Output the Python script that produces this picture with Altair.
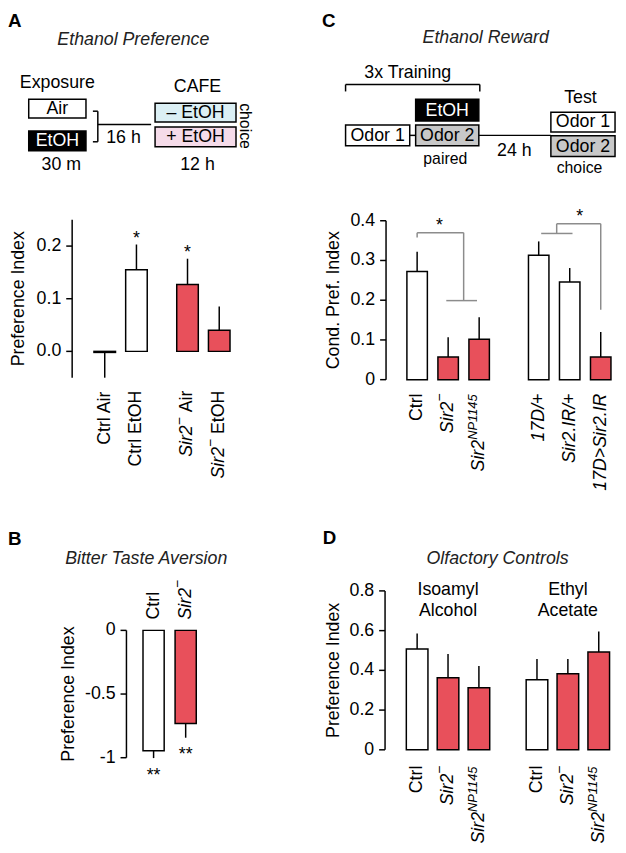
import altair as alt
import pandas as pd

FONT = "Liberation Sans"
RED = "#e8505b"
WHITE = "#ffffff"
BLACK = "#000000"
GRAY_BOX = "#c8c8c8"
BRACKET = "#8c8c8c"
BLUE_BOX = "#dbeff4"
PINK_BOX = "#f5dbe9"
O = 8  # page margin: page pixel -> chart pixel

# ---------------------------------------------------------------- data
# A  Ethanol preference
a_groups = [0, 0, 1, 1]
a_labels = [[("Ctrl Air", "n")], [("Ctrl EtOH", "n")],
            [("Sir2", "i"), ("\u2212", "sup"), (" Air", "n")],
            [("Sir2", "i"), ("\u2212", "sup"), (" EtOH", "n")]]
a_values = [-0.002, 0.155, 0.127, 0.040]
a_errors = [-0.048, 0.048, 0.049, 0.045]
a_fills = [WHITE, WHITE, RED, RED]
a_stars = ["", "*", "*", ""]
a_ticks = [0, 0.1, 0.2]
a_tick_labels = ["0.0", "0.1", "0.2"]

# B  Bitter taste aversion
b_groups = [0, 0]
b_labels = [[("Ctrl", "n")], [("Sir2", "i"), ("\u2212", "sup")]]
b_values = [-0.945, -0.731]
b_errors = [-0.058, -0.112]
b_fills = [WHITE, RED]
b_stars = ["**", "**"]
b_ticks = [-1, -0.5, 0]
b_tick_labels = ["-1", "-0.5", "0"]

# C  Ethanol reward
c_groups = [0, 0, 0, 1, 1, 1]
c_labels = [[("Ctrl", "n")], [("Sir2", "i"), ("\u2212", "sup")],
            [("Sir2", "i"), ("NP1145", "isup")],
            [("17D/+", "i")], [("Sir2.IR/+", "i")], [("17D>Sir2.IR", "i")]]
c_values = [0.272, 0.057, 0.102, 0.313, 0.246, 0.057]
c_errors = [0.050, 0.050, 0.055, 0.035, 0.035, 0.063]
c_fills = [WHITE, RED, RED, WHITE, WHITE, RED]
c_stars = ["", "", "", "", "", ""]
c_ticks = [0, 0.1, 0.2, 0.3, 0.4]
c_tick_labels = ["0", "0.1", "0.2", "0.3", "0.4"]
# significance brackets (bar-index units / index units)
c_sig_x = [0.0, 0.0, 1.5, 0.94, 4.0, 4.5, 4.5, 5.92]
c_sig_x2 = [0.0, 1.5, 1.5, 1.93, 5.01, 4.5, 5.92, 5.92]
c_sig_y = [0.358, 0.370, 0.370, 0.199, 0.368, 0.368, 0.3925, 0.3925]
c_sig_y2 = [0.370, 0.370, 0.199, 0.199, 0.368, 0.3925, 0.3925, 0.176]
c_sig_star_x = [0.72, 5.24]
c_sig_star_y = [0.370, 0.3925]

# D  Olfactory controls
d_groups = [0, 0, 0, 1, 1, 1]
d_labels = [[("Ctrl", "n")], [("Sir2", "i"), ("\u2212", "sup")],
            [("Sir2", "i"), ("NP1145", "isup")]] * 2
d_values = [0.507, 0.363, 0.313, 0.353, 0.383, 0.492]
d_errors = [0.079, 0.119, 0.109, 0.104, 0.074, 0.104]
d_fills = [WHITE, RED, RED, WHITE, RED, RED]
d_stars = ["", "", "", "", "", ""]
d_ticks = [0, 0.2, 0.4, 0.6, 0.8]
d_tick_labels = ["0", "0.2", "0.4", "0.6", "0.8"]
d_group_names = [["Isoamyl", "Alcohol"], ["Ethyl", "Acetate"]]

# ---------------------------------------------------------------- helpers
W = {' ': 278, '.': 278, '/': 278, '+': 584, '>': 584, '\u2212': 584, '-': 333,
     'A': 667, 'C': 722, 'D': 722, 'E': 667, 'H': 722, 'I': 278, 'N': 722,
     'O': 778, 'P': 667, 'R': 722, 'S': 667, 'i': 222, 'l': 222, 'r': 333, 't': 278}
STYLE = {"n": (18, "normal", 0), "i": (18, "italic", 0),
         "sup": (14, "normal", -8), "isup": (13, "italic", -6)}


def tw(s, size):
    return sum(W.get(ch, 556) for ch in s) * size / 1000.0


def make_pos(groups, gap):
    out, seen = [], {}
    n0 = groups.count(groups[0])
    for g in groups:
        k = seen.get(g, 0)
        seen[g] = k + 1
        out.append(k + g * (n0 + gap))
    return out


def label_frame(pos, labels, anchor_y, at_end):
    rows = []
    for p, pieces in zip(pos, labels):
        total = sum(tw(t, STYLE[s][0]) for t, s in pieces)
        base = anchor_y + total if at_end else anchor_y
        acc = 0.0
        for t, st in pieces:
            size = STYLE[st][0]
            lead = len(t) - len(t.lstrip(' '))
            start = acc + tw(' ' * lead, size)
            rows.append(dict(pos=p, ypix=base - start - O, txt=t.strip(), style=st))
            acc += tw(t, size)
    return pd.DataFrame(rows)


def px(f):
    return alt.X(f, scale=None, axis=None)


def py(f):
    return alt.Y(f, scale=None, axis=None)


def panel(groups, gap, labels, values, errors, fills, stars, xr, yd, yr, hw,
          axis_x, ticks, tick_labels, title, title_cx, star_dy, lab_y, lab_end, extra=()):
    pos = make_pos(groups, gap)
    df = pd.DataFrame({"pos": pos, "value": values, "err": errors, "fill": fills, "star": stars})
    df["tip"] = df["value"] + df["err"]
    xs = alt.Scale(domain=[pos[0], pos[-1]], range=[xr[0] - O, xr[1] - O], nice=False, zero=False)
    ys = alt.Scale(domain=yd, range=[yr[0] - O, yr[1] - O], nice=False, zero=False)
    base = alt.Chart(df)
    bars = base.transform_calculate(x0=f"datum.pos-{hw}", x1=f"datum.pos+{hw}").mark_bar(
        stroke="black", strokeWidth=1.5).encode(
        x=alt.X("x0:Q", scale=xs, axis=None), x2="x1:Q",
        y=alt.Y("value:Q", scale=ys, axis=None), y2=alt.datum(0),
        fill=alt.Fill("fill:N", scale=None))
    err = base.mark_rule(color="black", strokeWidth=1.5).encode(
        x=alt.X("pos:Q", scale=xs, axis=None),
        y=alt.Y("value:Q", scale=ys, axis=None), y2="tip:Q")
    layers = [bars, err]
    if any(s for s in stars):
        layers.append(base.transform_filter("datum.star != ''").mark_text(
            font=FONT, fontSize=18, baseline="alphabetic", dy=star_dy, color="black").encode(
            x=alt.X("pos:Q", scale=xs, axis=None),
            y=alt.Y("tip:Q", scale=ys, axis=None), text="star:N"))
    # y axis: domain line, ticks, tick labels, title (value positions through the panel scale)
    ax = axis_x - O
    dom = pd.DataFrame({"xa": [ax], "lo": [yd[0]], "hi": [yd[1]]})
    layers.append(alt.Chart(dom).mark_rule(color="black", strokeWidth=1.5).encode(
        x=px("xa:Q"), y=alt.Y("lo:Q", scale=ys, axis=None), y2="hi:Q"))
    tk = pd.DataFrame({"v": ticks, "lab": tick_labels, "xa": [ax - 6] * len(ticks),
                       "xb": [ax] * len(ticks), "xl": [ax - 11] * len(ticks)})
    layers.append(alt.Chart(tk).mark_rule(color="black", strokeWidth=1.5).encode(
        x=px("xa:Q"), x2="xb:Q", y=alt.Y("v:Q", scale=ys, axis=None)))
    layers.append(alt.Chart(tk).mark_text(font=FONT, fontSize=18, align="right",
                                          baseline="middle", color="black").encode(
        x=px("xl:Q"), y=alt.Y("v:Q", scale=ys, axis=None), text="lab:N"))
    tt = pd.DataFrame({"x": [title_cx - O], "y": [(yr[0] + yr[1]) / 2 - O], "t": [title]})
    layers.append(alt.Chart(tt).mark_text(font=FONT, fontSize=18, angle=270, align="center",
                                          baseline="middle", color="black").encode(
        x=px("x:Q"), y=py("y:Q"), text="t:N"))
    # rotated category labels with italic / superscript pieces
    lf = label_frame(pos, labels, lab_y, lab_end)
    for st, (size, fstyle, dy) in STYLE.items():
        sub = lf[lf["style"] == st]
        if len(sub) == 0:
            continue
        layers.append(alt.Chart(sub).mark_text(
            angle=270, align="left", baseline="middle", font=FONT, fontSize=size,
            fontStyle=fstyle, dy=dy, color="black").encode(
            x=alt.X("pos:Q", scale=xs, axis=None),
            y=py("ypix:Q"), text="txt:N"))
    for fn in extra:
        layers.append(fn(pos, xs, ys))
    return alt.layer(*layers)


def c_brackets(pos, xs, ys):
    d = pd.DataFrame({"x": c_sig_x, "x2": c_sig_x2, "y": c_sig_y, "y2": c_sig_y2})
    return alt.Chart(d).mark_rule(color=BRACKET, strokeWidth=1.5).encode(
        x=alt.X("x:Q", scale=xs, axis=None), x2="x2:Q",
        y=alt.Y("y:Q", scale=ys, axis=None), y2="y2:Q")


def c_bracket_stars(pos, xs, ys):
    d = pd.DataFrame({"x": c_sig_star_x, "y": c_sig_star_y, "t": ["*", "*"]})
    return alt.Chart(d).mark_text(font=FONT, fontSize=18, baseline="alphabetic", dy=-2,
                                  color="black").encode(
        x=alt.X("x:Q", scale=xs, axis=None), y=alt.Y("y:Q", scale=ys, axis=None), text="t:N")


def d_group_text(pos, xs, ys):
    rows = []
    for gi, lines in enumerate(d_group_names):
        members = [p for p, g in zip(pos, d_groups) if g == gi]
        cx = sum(members) / len(members)
        for li, t in enumerate(lines):
            rows.append(dict(x=cx, ypix=592 + 21 * li - O, t=t))
    d = pd.DataFrame(rows)
    return alt.Chart(d).mark_text(font=FONT, fontSize=18, baseline="middle", color="black").encode(
        x=alt.X("x:Q", scale=xs, axis=None), y=py("ypix:Q"), text="t:N")


pA = panel(a_groups, 0.61, a_labels, a_values, a_errors, a_fills, a_stars,
           xr=[106, 222], yd=[-0.05, 0.25], yr=[377, 217], hw=0.34, axis_x=73,
           ticks=a_ticks, tick_labels=a_tick_labels, title="Preference Index",
           title_cx=19, star_dy=-1, lab_y=390, lab_end=True)
pB = panel(b_groups, 0, b_labels, b_values, b_errors, b_fills, b_stars,
           xr=[155.5, 188], yd=[-1, 0], yr=[762, 633], hw=0.33, axis_x=128,
           ticks=b_ticks, tick_labels=b_tick_labels, title="Preference Index",
           title_cx=70, star_dy=23, lab_y=622, lab_end=False)
pC = panel(c_groups, 0.92, c_labels, c_values, c_errors, c_fills, c_stars,
           xr=[422.5, 608.5], yd=[0, 0.4], yr=[379, 218], hw=0.33, axis_x=391,
           ticks=c_ticks, tick_labels=c_tick_labels, title="Cond. Pref. Index",
           title_cx=338, star_dy=-2, lab_y=393, lab_end=True, extra=(c_brackets, c_bracket_stars))
pD = panel(d_groups, 0.88, d_labels, d_values, d_errors, d_fills, d_stars,
           xr=[422.5, 606.5], yd=[0, 0.8], yr=[754, 593], hw=0.35, axis_x=390,
           ticks=d_ticks, tick_labels=d_tick_labels, title="Preference Index",
           title_cx=338, star_dy=-2, lab_y=770, lab_end=True, extra=(d_group_text,))

# ---------------------------------------------------------------- schematics (page pixels)
rect_x0 = [29, 29, 157, 157, 421, 350, 421, 558, 558]
rect_y0 = [95, 127, 99, 123, 95, 121, 121, 108, 132]
rect_x1 = [87, 87, 239, 239, 485, 415, 485, 623, 623]
rect_y1 = [114, 147, 118, 143, 117, 142, 142, 128, 153]
rect_fill = [WHITE, BLACK, BLUE_BOX, PINK_BOX, BLACK, WHITE, GRAY_BOX, WHITE, GRAY_BOX]

line_x0 = [99, 94, 94, 99, 350, 350, 486, 415, 485]
line_y0 = [107, 107, 138, 120.5, 80, 80, 80, 131.5, 131.5]
line_x1 = [99, 99, 99, 153, 486, 350, 486, 421, 558]
line_y1 = [138, 107, 138, 120.5, 80, 87, 87, 131.5, 131.5]

txt_text = ["Exposure", "Air", "EtOH", "30 m", "16 h", "CAFE", "\u2013 EtOH", "+ EtOH", "12 h",
            "3x Training", "EtOH", "Odor 1", "Odor 2", "24 h", "Test", "Odor 1", "Odor 2"]
txt_x = [58, 58, 58, 62, 125, 200, 198, 198, 200, 413, 453, 382.5, 453, 521, 588, 590.5, 590.5]
txt_y = [79, 105, 137.5, 162, 134, 83, 109, 133.5, 162, 68, 106.5, 132, 132, 147, 94, 118.5, 143]
txt_color = [BLACK, BLACK, WHITE, BLACK, BLACK, BLACK, BLACK, BLACK, BLACK,
             BLACK, WHITE, BLACK, BLACK, BLACK, BLACK, BLACK, BLACK]

small_text = ["paired", "choice", "choice"]
small_x = [451, 587, 248]
small_y = [155, 165, 122]
small_angle = [0, 0, 90]

title_text = ["Ethanol Preference", "Ethanol Reward", "Bitter Taste Aversion", "Olfactory Controls"]
title_x = [135, 492, 148, 504]
title_y = [35, 33, 561, 561]

letter_text = ["A", "C", "B", "D"]
letter_x = [8, 326, 8, 327]
letter_y = [16, 16, 540, 539]

rects = pd.DataFrame({"x": [v - O for v in rect_x0], "x2": [v - O for v in rect_x1],
                      "y": [v - O for v in rect_y0], "y2": [v - O for v in rect_y1],
                      "f": rect_fill})
lines = pd.DataFrame({"x": [v - O for v in line_x0], "x2": [v - O for v in line_x1],
                      "y": [v - O for v in line_y0], "y2": [v - O for v in line_y1]})
texts = pd.DataFrame({"x": [v - O for v in txt_x], "y": [v - O for v in txt_y],
                      "t": txt_text, "c": txt_color})
smalls = pd.DataFrame({"x": [v - O for v in small_x], "y": [v - O for v in small_y],
                       "t": small_text, "a": small_angle})
titles = pd.DataFrame({"x": [v - O for v in title_x], "y": [v - O for v in title_y], "t": title_text})
letters = pd.DataFrame({"x": [v - O for v in letter_x], "y": [v - O for v in letter_y], "t": letter_text})

rect_layer = alt.Chart(rects).mark_rect(stroke="black", strokeWidth=1.5).encode(
    x=px("x:Q"), x2="x2:Q", y=py("y:Q"), y2="y2:Q", fill=alt.Fill("f:N", scale=None))
line_layer = alt.Chart(lines).mark_rule(color="black", strokeWidth=1.5).encode(
    x=px("x:Q"), x2="x2:Q", y=py("y:Q"), y2="y2:Q")
text_layer = alt.Chart(texts).mark_text(font=FONT, fontSize=18, baseline="middle").encode(
    x=px("x:Q"), y=py("y:Q"), text="t:N", color=alt.Color("c:N", scale=None))
small_flat = alt.Chart(smalls).transform_filter("datum.a == 0").mark_text(
    font=FONT, fontSize=16, baseline="middle", color="black").encode(
    x=px("x:Q"), y=py("y:Q"), text="t:N")
small_rot = alt.Chart(smalls).transform_filter("datum.a == 90").mark_text(
    font=FONT, fontSize=16, baseline="middle", color="black", angle=90).encode(
    x=px("x:Q"), y=py("y:Q"), text="t:N")
title_layer = alt.Chart(titles).mark_text(font=FONT, fontSize=18, fontStyle="italic",
                                          baseline="middle", color="#222222").encode(
    x=px("x:Q"), y=py("y:Q"), text="t:N")
letter_layer = alt.Chart(letters).mark_text(font=FONT, fontSize=19, fontWeight="bold",
                                            align="left", baseline="middle", color="black").encode(
    x=px("x:Q"), y=py("y:Q"), text="t:N")

chart = alt.layer(
    rect_layer, line_layer, text_layer, small_flat, small_rot, title_layer, letter_layer,
    pA, pB, pC, pD
).resolve_scale(x="independent", y="independent").properties(
    width=618, height=845, padding=0, autosize=alt.AutoSizeParams(type="none")
).configure_view(stroke=None)

chart.save("out.html", embed_options={"renderer": "svg", "actions": False})
